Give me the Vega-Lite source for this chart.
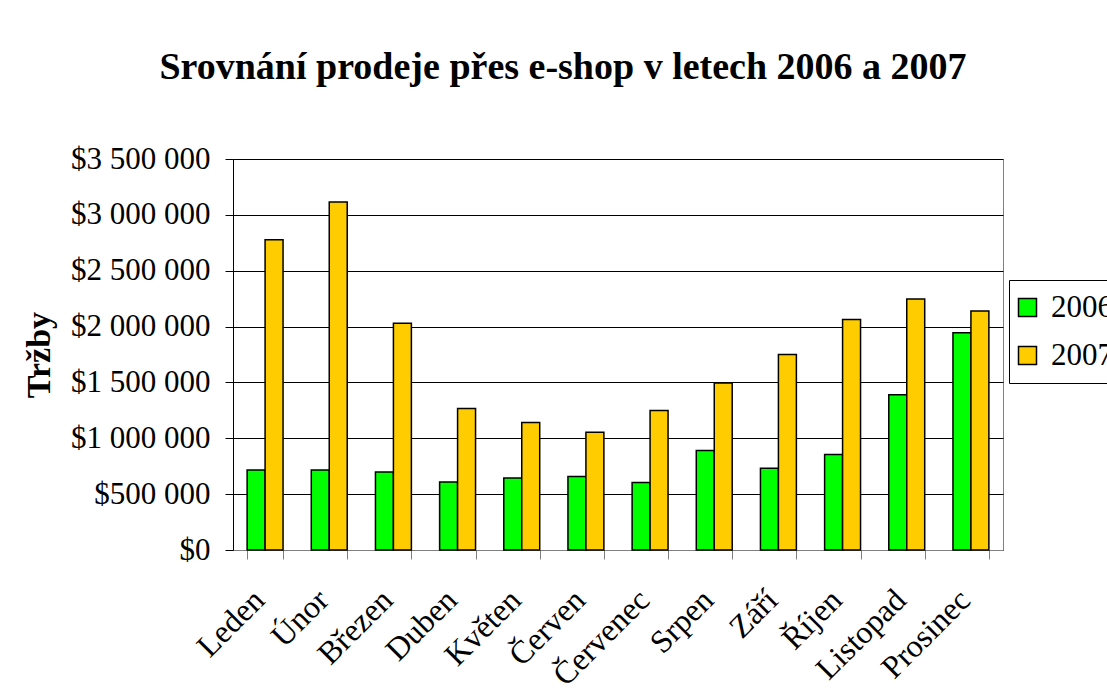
{
  "$schema": "https://vega.github.io/schema/vega-lite/v6.json",
  "autosize": {"type": "none"},
  "padding": {"left": 233, "top": 159, "right": 104, "bottom": 148},
  "width": 770,
  "height": 391,
  "background": "white",
  "title": {
    "text": "Srovnání prodeje přes e-shop v letech 2006 a 2007",
    "font": "Liberation Serif",
    "fontSize": 38,
    "fontWeight": "bold",
    "color": "black",
    "anchor": "middle",
    "baseline": "alphabetic",
    "dx": -55,
    "offset": 26
  },
  "data": {
    "values": [
      {"month": "Leden", "year": "2006", "value": 716000},
      {"month": "Leden", "year": "2007", "value": 2777000},
      {"month": "Únor", "year": "2006", "value": 716000},
      {"month": "Únor", "year": "2007", "value": 3116000},
      {"month": "Březen", "year": "2006", "value": 698000},
      {"month": "Březen", "year": "2007", "value": 2030000},
      {"month": "Duben", "year": "2006", "value": 609000},
      {"month": "Duben", "year": "2007", "value": 1267000},
      {"month": "Květen", "year": "2006", "value": 645000},
      {"month": "Květen", "year": "2007", "value": 1141000},
      {"month": "Červen", "year": "2006", "value": 659000},
      {"month": "Červen", "year": "2007", "value": 1054000},
      {"month": "Červenec", "year": "2006", "value": 605000},
      {"month": "Červenec", "year": "2007", "value": 1249000},
      {"month": "Srpen", "year": "2006", "value": 890000},
      {"month": "Srpen", "year": "2007", "value": 1494000},
      {"month": "Září", "year": "2006", "value": 731000},
      {"month": "Září", "year": "2007", "value": 1749000},
      {"month": "Říjen", "year": "2006", "value": 854000},
      {"month": "Říjen", "year": "2007", "value": 2063000},
      {"month": "Listopad", "year": "2006", "value": 1390000},
      {"month": "Listopad", "year": "2007", "value": 2247000},
      {"month": "Prosinec", "year": "2006", "value": 1945000},
      {"month": "Prosinec", "year": "2007", "value": 2140000}
    ]
  },
  "mark": {"type": "bar", "stroke": "black", "strokeWidth": 1.5},
  "encoding": {
    "x": {
      "field": "month",
      "type": "nominal",
      "sort": ["Leden", "Únor", "Březen", "Duben", "Květen", "Červen", "Červenec", "Srpen", "Září", "Říjen", "Listopad", "Prosinec"],
      "scale": {"paddingInner": 0.44, "paddingOuter": 0.22},
      "axis": {
        "title": null,
        "labelAngle": -45,
        "labelAlign": "right",
        "labelBaseline": "top",
        "labelFont": "Liberation Serif",
        "labelFontSize": 32,
        "labelColor": "black",
        "labelPadding": 25,
        "labelOffset": -17,
        "tickBand": "extent",
        "tickColor": "#808080",
        "tickSize": 9,
        "domainColor": "#808080",
        "grid": false
      }
    },
    "xOffset": {"field": "year", "type": "nominal", "scale": {"paddingInner": 0, "paddingOuter": 0}},
    "y": {
      "field": "value",
      "type": "quantitative",
      "scale": {"domain": [0, 3500000], "nice": false},
      "axis": {
        "title": "Tržby",
        "titleFont": "Liberation Serif",
        "titleFontSize": 34,
        "titleFontWeight": "bold",
        "titleColor": "black",
        "titlePadding": 14,
        "values": [0, 500000, 1000000, 1500000, 2000000, 2500000, 3000000, 3500000],
        "labelExpr": "'$' + replace(format(datum.value, ','), regexp(',', 'g'), ' ')",
        "labelFont": "Liberation Serif",
        "labelFontSize": 31,
        "labelColor": "black",
        "labelPadding": 15,
        "tickColor": "black",
        "tickSize": 8,
        "domainColor": "black",
        "grid": true,
        "gridColor": "black",
        "gridOpacity": 1,
        "gridWidth": 1
      }
    },
    "color": {
      "field": "year",
      "type": "nominal",
      "scale": {"domain": ["2006", "2007"], "range": ["#00FF00", "#FFCC00"]},
      "legend": {
        "title": null,
        "orient": "none",
        "legendX": 776,
        "legendY": 121,
        "strokeColor": "black",
        "fillColor": "white",
        "padding": 12,
        "symbolType": "square",
        "symbolSize": 324,
        "symbolOffset": -9,
        "symbolStrokeColor": "black",
        "symbolStrokeWidth": 1.5,
        "symbolOpacity": 1,
        "labelFont": "Liberation Serif",
        "labelFontSize": 31,
        "labelColor": "black",
        "labelOffset": 8,
        "rowPadding": 16
      }
    }
  },
  "config": {
    "view": {"stroke": "#808080", "strokeWidth": 1},
    "axis": {"domainWidth": 1, "tickWidth": 1}
  }
}
